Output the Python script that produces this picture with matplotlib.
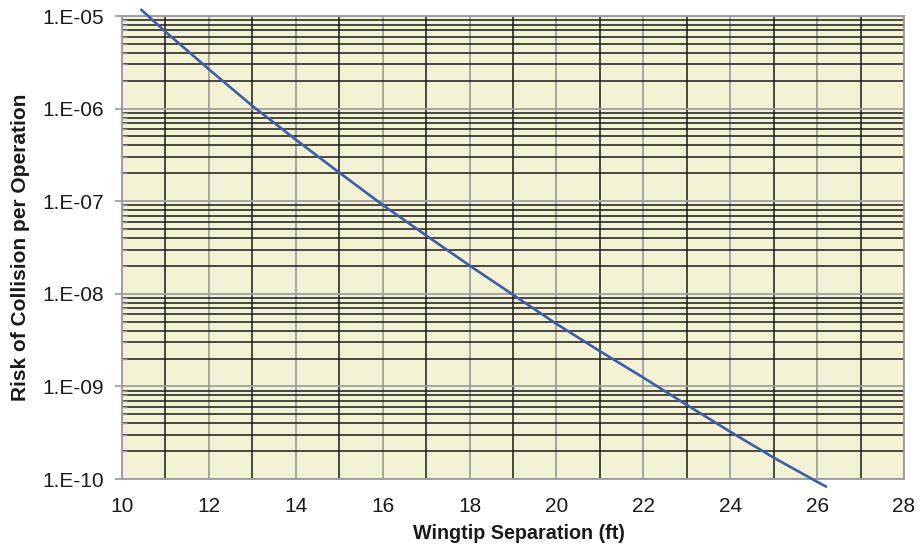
import numpy as np
import matplotlib
matplotlib.use("Agg")
import matplotlib.pyplot as plt
from matplotlib.ticker import LogLocator, MultipleLocator, FuncFormatter, NullFormatter

# wingtip separation (ft) and risk of collision
separation = [10.45, 11, 12, 13, 14, 15, 16, 17, 18, 19, 20, 21, 22, 23, 24, 25, 26, 26.2]
risk = [1.161e-5, 6.76e-6, 2.66e-6, 1.07e-6, 4.62e-7, 2.04e-7, 9.12e-8, 4.27e-8, 2.02e-8,
        9.77e-9, 4.73e-9, 2.40e-9, 1.245e-9, 6.31e-10, 3.24e-10, 1.70e-10, 9.33e-11, 8.32e-11]

plt.rcParams['font.family'] = ['Liberation Sans', 'DejaVu Sans']

fig = plt.figure(figsize=(9.21, 5.52), dpi=100)
ax = fig.add_axes([122/921, 1-479/552, (904-122)/921, (479-16)/552])
ax.set_facecolor('#f4f2d4')

ax.set_yscale('log')
ax.set_xlim(10, 28)
ax.set_ylim(1e-10, 1e-5)

ax.xaxis.set_major_locator(MultipleLocator(2))
ax.xaxis.set_minor_locator(MultipleLocator(1))
ax.yaxis.set_major_locator(LogLocator(base=10, numticks=20))
ax.yaxis.set_minor_locator(LogLocator(base=10, subs=np.arange(2, 10), numticks=20))
ax.yaxis.set_major_formatter(FuncFormatter(lambda v, p: "1.E-%02d" % round(-np.log10(v))))
ax.yaxis.set_minor_formatter(NullFormatter())

ax.grid(which='minor', color='#1a1a1a', linewidth=1.1)
ax.grid(which='major', color='#a0a0a0', linewidth=1.3)
ax.set_axisbelow(True)

ax.plot(separation, risk, color='#3c5ea9', linewidth=1.9, clip_on=False, zorder=5)

for s in ax.spines.values():
    s.set_color('#9a9a9a')
    s.set_linewidth(1.3)

ax.tick_params(axis='x', which='both', length=0, pad=13, labelsize=15, colors='#1a1a1a')
ax.tick_params(axis='y', which='major', length=5, width=1.2, color='#9a9a9a', pad=8,
               labelsize=15, labelcolor='#1a1a1a')
ax.tick_params(axis='y', which='minor', direction='in', length=3.5, width=1.0, color='#9a9a9a')

ax.set_xlabel('Wingtip Separation (ft)', fontsize=14.2, fontweight='bold', color='#1a1a1a')
ax.set_ylabel('Risk of Collision per Operation', fontsize=15, fontweight='bold', color='#1a1a1a', labelpad=9)
ax.xaxis.set_label_coords(0.5077, -0.098)

fig.savefig('out.png', dpi=100)
